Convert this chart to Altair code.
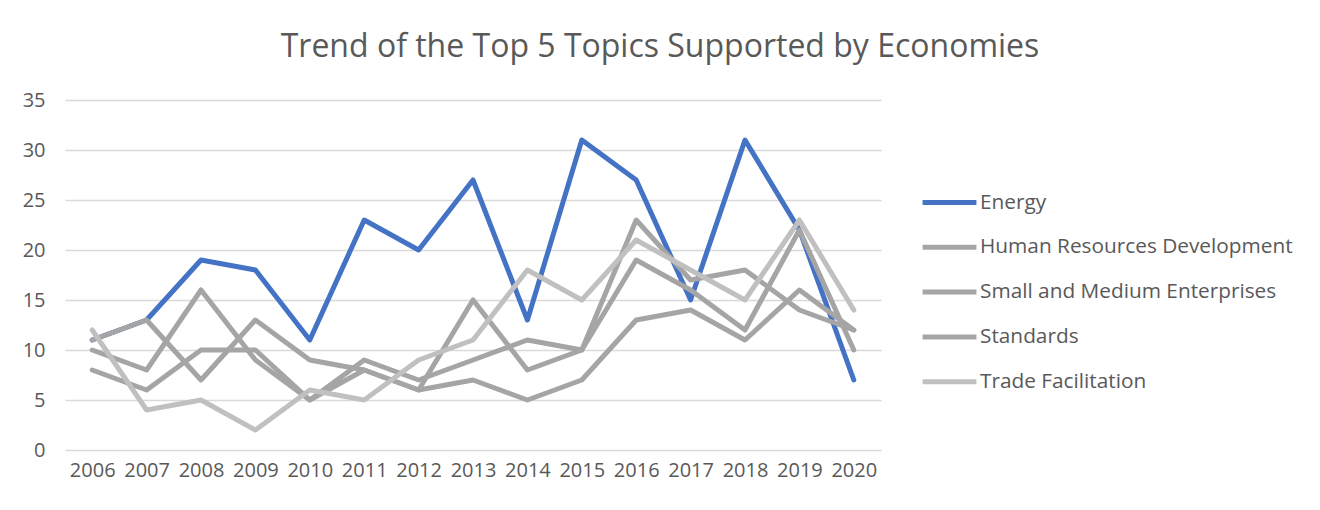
import altair as alt
import pandas as pd

years = [str(y) for y in range(2006, 2021)]
series_names = ["Energy", "Human Resources Development", "Small and Medium Enterprises",
                "Standards", "Trade Facilitation"]
energy = [11, 13, 19, 18, 11, 23, 20, 27, 13, 31, 27, 15, 31, 22, 7]
hrd = [11, 13, 7, 13, 9, 8, 6, 15, 8, 10, 23, 17, 18, 14, 12]
sme = [10, 8, 16, 9, 5, 9, 7, 9, 11, 10, 19, 16, 12, 22, 10]
standards = [8, 6, 10, 10, 5, 8, 6, 7, 5, 7, 13, 14, 11, 16, 12]
trade = [12, 4, 5, 2, 6, 5, 9, 11, 18, 15, 21, 18, 15, 23, 14]
colors = ["#4472C4", "#A5A5A5", "#A5A5A5", "#A5A5A5", "#C0C0C0"]

rows = []
for name, vals in zip(series_names, [energy, hrd, sme, standards, trade]):
    for y, v in zip(years, vals):
        rows.append({"Year": y, "Topic": name, "Count": v, "order": series_names.index(name)})
df = pd.DataFrame(rows)

FONT = "Open Sans"
TXT = "#595959"

chart = alt.Chart(df).mark_line(strokeWidth=5, strokeCap="round", strokeJoin="round").encode(
    x=alt.X("Year:O", title=None, sort=years,
            scale=alt.Scale(type="point", padding=0.5),
            axis=alt.Axis(labelAngle=0, labelFontSize=20, labelColor=TXT, labelFont=FONT,
                          ticks=False, domain=False, grid=False, labelPadding=10)),
    y=alt.Y("Count:Q", title=None,
            scale=alt.Scale(domain=[0, 35], nice=False),
            axis=alt.Axis(values=list(range(0, 36, 5)), labelFontSize=20, labelColor=TXT,
                          labelFont=FONT, ticks=False, domain=False, gridColor="#D9D9D9",
                          gridWidth=1.5, labelPadding=20)),
    color=alt.Color("Topic:N", sort=series_names,
                    scale=alt.Scale(domain=series_names, range=colors),
                    legend=alt.Legend(title=None, orient="none", legendX=855, legendY=73,
                                      symbolType="stroke", symbolSize=2900, symbolStrokeWidth=5,
                                      labelFontSize=20.8, labelColor=TXT, labelFont=FONT,
                                      labelLimit=600, rowPadding=4.8, labelOffset=1)),
    order=alt.Order("order:Q", sort="descending"),
    detail="Topic:N",
).properties(
    width=816, height=350,
    title=alt.Title("Trend of the Top 5 Topics Supported by Economies", fontSize=32,
                    font=FONT, fontWeight="normal", color=TXT, anchor="middle", offset=26,
                    dx=187),
    padding={"left": 57, "top": 92, "right": 420, "bottom": 48},
    autosize=alt.AutoSizeParams(type="none"),
).configure_view(stroke=None)

chart.save("out.html", embed_options={"renderer": "svg", "actions": False})
